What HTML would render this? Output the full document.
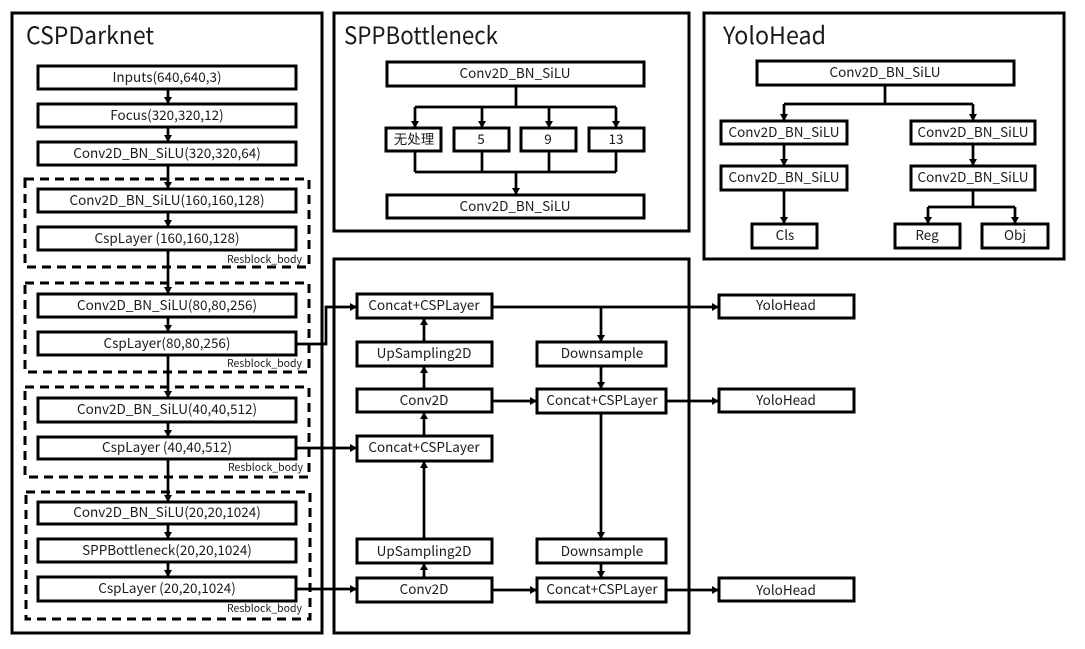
<!DOCTYPE html>
<html><head><meta charset="utf-8"><style>
html,body{margin:0;padding:0;background:#fff}
svg{display:block;filter:blur(0.3px)}
text{font-family:"Noto Sans CJK SC","Liberation Sans",sans-serif;fill:#1a1a1a}
.t{font-size:24px}
.b{font-size:13.5px;text-anchor:middle;dominant-baseline:central;transform:translateY(-1px)}
.r{font-size:10.5px}
rect{fill:#fff;stroke:#000;stroke-width:3}
.p{fill:none;stroke:#000;stroke-width:3}
.d{fill:none;stroke:#000;stroke-width:3;stroke-dasharray:9 6}
.l{fill:none;stroke:#000;stroke-width:2.7}
polygon{fill:#000}
</style></head><body>
<svg width="1085" height="649" viewBox="0 0 1085 649" xmlns="http://www.w3.org/2000/svg">
<rect x="0" y="0" width="1085" height="649" style="stroke:none"/>
<path class="p" d="M12 13H322V633H12Z"/>
<path class="p" d="M334 13H689V231H334Z"/>
<path class="p" d="M704 13H1064V259H704Z"/>
<path class="p" d="M334 259H689V633H334Z"/>
<path class="d" d="M25 179H309V267H25Z"/>
<path class="d" d="M25 283H309V372H25Z"/>
<path class="d" d="M25 387H309V477H25Z"/>
<path class="d" d="M26 492H310V619H26Z"/>

<path class="l" d="M168 89V104M168 127V142M168 165V189M168 212V227M168 250V294M168 317V332M168 355V398M168 422V437M168 459V502M168 524V539M168 562V577"/>
<path class="l" d="M296 344H326V307H357M296 448H357M296 589H357"/>
<path class="l" d="M516 86V107M415 107H616M415 107V128M482 107V128M549 107V128M616 107V128M415 151V172M482 151V172M549 151V172M616 151V172M415 172H616M516 172V195"/>
<path class="l" d="M885 85V104M784 104H973M784 104V121M973 104V121M784 144V166M973 144V166M784 190V224M973 190V207M928 207H1015M928 207V224M1015 207V224"/>
<path class="l" d="M492 307H719M601 307V342M601 366V389M492 401H537M666 401H719M601 413V539M601 563V578M424 318V342M424 366V389M424 412V436M424 461V539M424 563V578M492 590H537M666 590H719"/>

<g>
<polygon points="164,97 172,97 168,104"/><polygon points="164,135 172,135 168,142"/><polygon points="164,182 172,182 168,189"/><polygon points="164,220 172,220 168,227"/><polygon points="164,287 172,287 168,294"/><polygon points="164,325 172,325 168,332"/><polygon points="164,391 172,391 168,398"/><polygon points="164,430 172,430 168,437"/><polygon points="164,495 172,495 168,502"/><polygon points="164,532 172,532 168,539"/><polygon points="164,570 172,570 168,577"/>
<polygon points="350,303 350,311 357,307"/><polygon points="350,444 350,452 357,448"/><polygon points="350,585 350,593 357,589"/>
<polygon points="411,121 419,121 415,128"/><polygon points="478,121 486,121 482,128"/><polygon points="545,121 553,121 549,128"/><polygon points="612,121 620,121 616,128"/><polygon points="512,188 520,188 516,195"/>
<polygon points="780,114 788,114 784,121"/><polygon points="969,114 977,114 973,121"/><polygon points="780,159 788,159 784,166"/><polygon points="969,159 977,159 973,166"/><polygon points="780,217 788,217 784,224"/><polygon points="924,217 932,217 928,224"/><polygon points="1011,217 1019,217 1015,224"/>
<polygon points="597,335 605,335 601,342"/><polygon points="597,382 605,382 601,389"/><polygon points="597,532 605,532 601,539"/><polygon points="597,571 605,571 601,578"/>
<polygon points="420,325 428,325 424,318"/><polygon points="420,373 428,373 424,366"/><polygon points="420,419 428,419 424,412"/><polygon points="420,468 428,468 424,461"/><polygon points="420,570 428,570 424,563"/>
<polygon points="712,303 712,311 719,307"/><polygon points="712,397 712,405 719,401"/><polygon points="712,586 712,594 719,590"/>
<polygon points="530,397 530,405 537,401"/><polygon points="530,586 530,594 537,590"/>
</g>

<rect x="38" y="66" width="258" height="23"/>
<rect x="38" y="104" width="258" height="23"/>
<rect x="38" y="142" width="258" height="23"/>
<rect x="38" y="189" width="258" height="23"/>
<rect x="38" y="227" width="258" height="23"/>
<rect x="38" y="294" width="258" height="23"/>
<rect x="38" y="332" width="258" height="23"/>
<rect x="38" y="398" width="258" height="24"/>
<rect x="38" y="437" width="258" height="22"/>
<rect x="38" y="502" width="258" height="22"/>
<rect x="38" y="539" width="258" height="23"/>
<rect x="38" y="577" width="258" height="24"/>

<rect x="387" y="62" width="257" height="24"/>
<rect x="386" y="128" width="55" height="23"/>
<rect x="454" y="128" width="55" height="23"/>
<rect x="521" y="128" width="55" height="23"/>
<rect x="589" y="128" width="55" height="23"/>
<rect x="387" y="195" width="257" height="23"/>

<rect x="757" y="61" width="257" height="24"/>
<rect x="721" y="121" width="126" height="23"/>
<rect x="721" y="166" width="126" height="24"/>
<rect x="911" y="121" width="124" height="23"/>
<rect x="911" y="166" width="124" height="24"/>
<rect x="752" y="224" width="65" height="24"/>
<rect x="895" y="224" width="65" height="24"/>
<rect x="982" y="224" width="66" height="24"/>

<rect x="357" y="294" width="135" height="24"/>
<rect x="357" y="342" width="135" height="24"/>
<rect x="357" y="389" width="135" height="23"/>
<rect x="357" y="436" width="135" height="25"/>
<rect x="357" y="539" width="135" height="24"/>
<rect x="357" y="578" width="135" height="24"/>
<rect x="537" y="342" width="129" height="24"/>
<rect x="537" y="389" width="129" height="24"/>
<rect x="537" y="539" width="129" height="24"/>
<rect x="537" y="578" width="129" height="24"/>
<rect x="719" y="295" width="135" height="23"/>
<rect x="719" y="389" width="135" height="23"/>
<rect x="719" y="578" width="135" height="23"/>

<text class="t" x="26" y="44" textLength="128" lengthAdjust="spacingAndGlyphs">CSPDarknet</text>
<text class="t" x="344" y="44" textLength="154" lengthAdjust="spacingAndGlyphs">SPPBottleneck</text>
<text class="t" x="723" y="44" textLength="103" lengthAdjust="spacingAndGlyphs">YoloHead</text>

<text class="b" x="167" y="77">Inputs(640,640,3)</text>
<text class="b" x="167" y="115">Focus(320,320,12)</text>
<text class="b" x="167" y="153">Conv2D_BN_SiLU(320,320,64)</text>
<text class="b" x="167" y="200">Conv2D_BN_SiLU(160,160,128)</text>
<text class="b" x="167" y="238">CspLayer (160,160,128)</text>
<text class="b" x="167" y="305">Conv2D_BN_SiLU(80,80,256)</text>
<text class="b" x="167" y="343">CspLayer(80,80,256)</text>
<text class="b" x="167" y="409">Conv2D_BN_SiLU(40,40,512)</text>
<text class="b" x="167" y="447">CspLayer (40,40,512)</text>
<text class="b" x="167" y="512">Conv2D_BN_SiLU(20,20,1024)</text>
<text class="b" x="167" y="550">SPPBottleneck(20,20,1024)</text>
<text class="b" x="167" y="588">CspLayer (20,20,1024)</text>

<text class="r" x="227" y="263">Resblock_body</text>
<text class="r" x="227" y="367">Resblock_body</text>
<text class="r" x="228" y="471">Resblock_body</text>
<text class="r" x="227" y="612">Resblock_body</text>

<text class="b" x="515" y="73">Conv2D_BN_SiLU</text>
<text class="b" x="414" y="139">无处理</text>
<text class="b" x="481" y="139">5</text>
<text class="b" x="548" y="139">9</text>
<text class="b" x="616" y="139">13</text>
<text class="b" x="515" y="206">Conv2D_BN_SiLU</text>

<text class="b" x="885" y="72">Conv2D_BN_SiLU</text>
<text class="b" x="784" y="132">Conv2D_BN_SiLU</text>
<text class="b" x="784" y="177">Conv2D_BN_SiLU</text>
<text class="b" x="973" y="132">Conv2D_BN_SiLU</text>
<text class="b" x="973" y="177">Conv2D_BN_SiLU</text>
<text class="b" x="785" y="235">Cls</text>
<text class="b" x="927" y="235">Reg</text>
<text class="b" x="1015" y="235">Obj</text>

<text class="b" x="424" y="305">Concat+CSPLayer</text>
<text class="b" x="424" y="353">UpSampling2D</text>
<text class="b" x="424" y="400">Conv2D</text>
<text class="b" x="424" y="447">Concat+CSPLayer</text>
<text class="b" x="424" y="551">UpSampling2D</text>
<text class="b" x="424" y="589">Conv2D</text>
<text class="b" x="602" y="353">Downsample</text>
<text class="b" x="602" y="400">Concat+CSPLayer</text>
<text class="b" x="602" y="551">Downsample</text>
<text class="b" x="602" y="589">Concat+CSPLayer</text>
<text class="b" x="786" y="305">YoloHead</text>
<text class="b" x="786" y="400">YoloHead</text>
<text class="b" x="786" y="590">YoloHead</text>
</svg>
</body></html>
